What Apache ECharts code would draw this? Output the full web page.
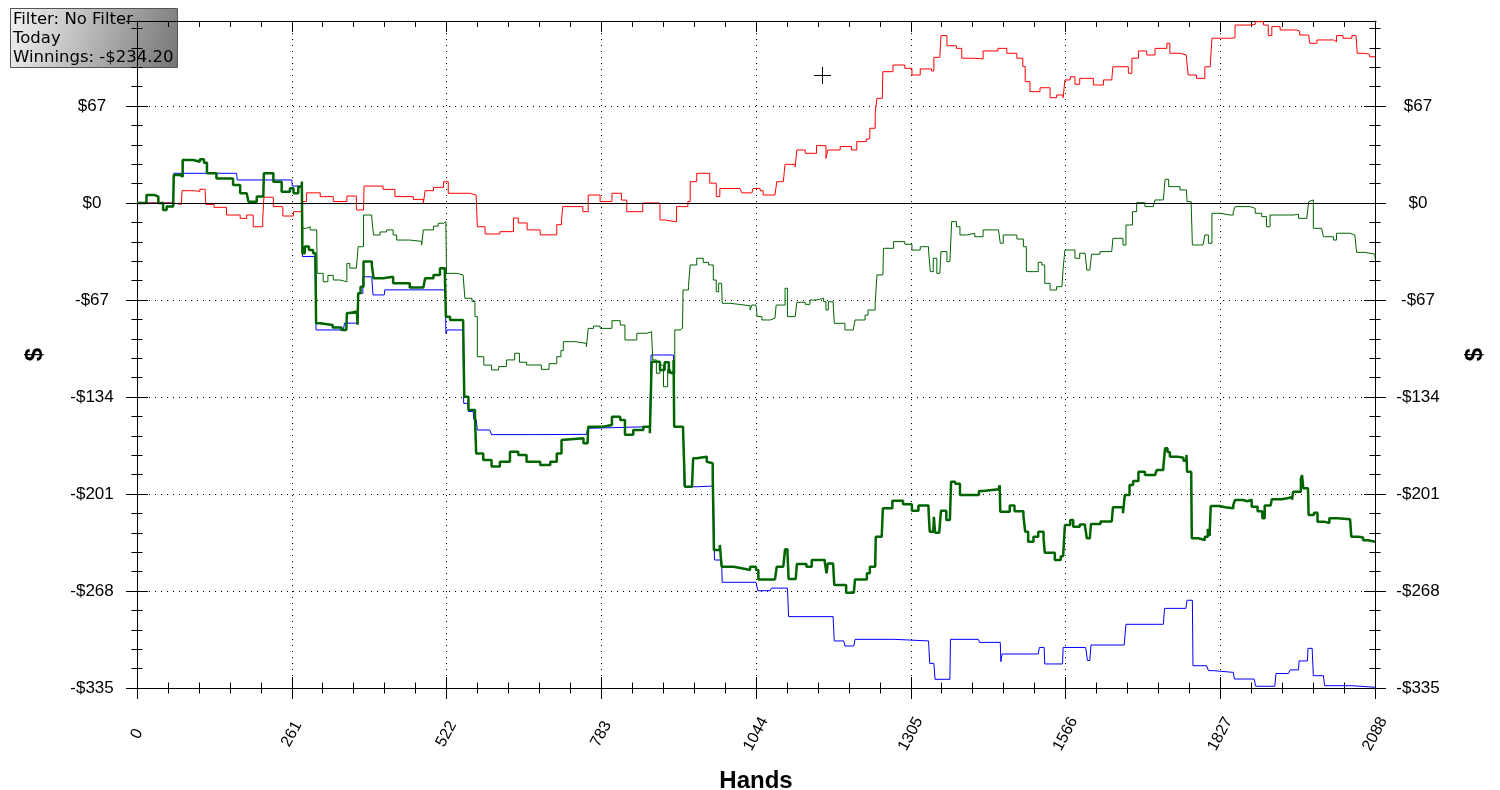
<!DOCTYPE html>
<html>
<head>
<meta charset="UTF-8">
<title>Winnings graph</title>
<script type="text/javascript" src="https://cdn.jsdelivr.net/npm/echarts@6/dist/echarts.min.js"></script>
<style>
  html, body { margin: 0; padding: 0; background: #fff; }
</style>
</head>
<body>
<div id="main" style="width:1500px;height:790px"></div>
<script type="text/javascript">
// axis ranges
var handsMax = 2088, handsStep = 261;
var dollarMin = -335, dollarMax = 125.7, dollarStep = 67;

// [hand, $] points
var blueLine = [[0,0],[61,0],[62,20.5],[168,20.5],[169,15.9],[261,15.9],[262,11.7],[278,11.7],[279,-37],[300,-38],[302,-87.7],[348,-87.7],[350,-83],[372,-83],[373,-62.4],[381,-51],[396,-51],[398,-63.5],[417,-63.5],[418,-60],[520,-60],[521,-90],[523,-87.7],[550,-87.7],[551,-138.4],[558,-138.4],[559,-144],[567,-144],[568,-149.5],[572,-149.5],[574,-156.8],[595,-156.8],[598,-160],[671,-160],[673,-159.8],[758,-159.8],[760,-155.6],[764,-154.5],[865,-154.5],[867,-105],[905,-105],[906,-154.5],[921,-154.5],[923,-196],[945,-196],[947,-195.5],[972,-195.5],[974,-246.6],[986,-246.6],[987,-262],[1044,-262],[1047,-267.8],[1068,-267.8],[1070,-266],[1097,-266],[1099,-285.7],[1174,-285.7],[1176,-302.5],[1192,-302.5],[1194,-306],[1209,-306],[1211,-301.4],[1278,-301.4],[1280,-302.5],[1335,-302.5],[1337,-318],[1344,-318],[1346,-329],[1371,-329],[1372,-301.4],[1419,-301.4],[1421,-303.5],[1456,-303.5],[1457,-316.8],[1459,-311.5],[1520,-311.5],[1522,-307],[1530,-307],[1531,-318.4],[1561,-318.4],[1562,-307],[1600,-307],[1603,-316],[1607,-316],[1609,-305.3],[1665,-305.3],[1668,-291],[1724,-291],[1731,-290],[1733,-280],[1769,-280],[1771,-274.4],[1780,-274.4],[1781,-319.6],[1804,-319.6],[1807,-323],[1815,-324.2],[1849,-324.2],[1851,-328.8],[1884,-328.8],[1887,-333.8],[1919,-333.8],[1921,-325],[1942,-325],[1945,-322.5],[1959,-322.5],[1960,-316.3],[1974,-316.3],[1975,-307.6],[1982,-307.6],[1984,-326.5],[2001,-326.5],[2003,-333.4],[2049,-333.4],[2051,-334.5],[2088,-334.5]];

var redLine = [[0,0],[44,0],[62,-1],[75,-1],[76,8.5],[95,8],[106,9.5],[115,8],[116,-1],[130,-3],[151,-8.3],[174,-10.6],[185,-8.3],[196,-16.4],[212,-11.7],[214,4],[230,-2.5],[246,-9],[264,-6],[278,1],[286,7],[309,4.4],[331,1],[354,4.8],[370,-4.8],[382,-5.5],[383,11.7],[415,9.4],[435,4.4],[466,2.5],[483,0],[486,8.5],[500,10.8],[517,14.7],[525,6.7],[562,5.5],[572,4.4],[574,-16.4],[587,-21.4],[612,-19.8],[635,-10.4],[643,-13.8],[658,-18.6],[680,-22],[708,-15],[716,-11.7],[718,-2.5],[752,-6],[761,5.5],[781,1],[801,6.7],[817,2],[826,-6],[853,0],[882,-11.7],[890,-13],[910,-2.5],[929,1],[933,14.7],[944,20.5],[966,13.7],[977,4.4],[983,10],[1017,10],[1020,7],[1037,7],[1039,10],[1051,8.5],[1056,5.5],[1076,6.7],[1079,14.7],[1090,14.7],[1093,26.7],[1110,25],[1113,36.6],[1127,34.3],[1146,39.6],[1162,30.8],[1165,36.6],[1186,39],[1205,36.6],[1214,42.4],[1230,44.2],[1236,51.6],[1245,62],[1248,72.3],[1257,71],[1258,90.7],[1275,95.3],[1295,93],[1307,88.4],[1321,92.6],[1340,91.2],[1344,100.6],[1354,100.6],[1356,115.6],[1366,108.6],[1382,106.8],[1391,100],[1410,99.5],[1427,105],[1452,106.8],[1467,103.4],[1484,100],[1494,94.3],[1498,83.8],[1506,76.9],[1523,79.6],[1540,72.7],[1551,74.6],[1562,72.7],[1565,85],[1574,87.2],[1582,82],[1590,86.1],[1613,81.5],[1630,85],[1644,83.8],[1646,94.1],[1672,89.6],[1678,100],[1689,105],[1703,102.2],[1717,106.8],[1737,110.3],[1742,103.4],[1759,102.2],[1770,100],[1773,88.4],[1787,86.1],[1801,94.1],[1810,94.1],[1813,113.8],[1827,113.8],[1846,114.2],[1852,122.9],[1877,123.4],[1886,125.2],[1900,122.9],[1908,115.6],[1914,121.8],[1928,119.5],[1956,118.8],[1961,116],[1976,115.6],[1978,110.3],[1990,112.6],[2018,111.4],[2023,115.6],[2034,113.8],[2049,115.6],[2056,114.9],[2058,103.4],[2071,102.7],[2079,101],[2088,100.4]];

// both green lines run together until hand 278
var greenStart = [[0,0],[16,5.5],[30,4.4],[36,0],[44,-4.8],[50,-2.5],[61,-1.4],[62,19.3],[73,18.2],[77,29.7],[95,28.5],[106,30.2],[113,27.8],[118,20.5],[134,17],[162,12.4],[174,6.7],[185,7.8],[188,0.9],[202,4.4],[213,4.4],[214,20.5],[230,14.7],[244,7.8],[258,10.2],[264,6.7],[272,11.2],[278,14.7]];

var thinGreenRest = [[279,-17.5],[286,-16.4],[292,-18.6],[303,-19.8],[304,-48.6],[314,-54.4],[322,-50],[331,-53.2],[342,-54.4],[354,-41.7],[359,-45],[370,-46.3],[373,-30.2],[382,-8.3],[396,-10.6],[399,-22.1],[410,-20],[421,-18.6],[432,-22.1],[438,-25.6],[460,-26.5],[480,-29],[483,-18.6],[500,-16],[508,-14],[517,-12.9],[521,-16.4],[522,-48.6],[540,-49.7],[550,-49.7],[553,-65.8],[565,-68],[570,-78.5],[574,-106.2],[585,-112],[598,-115.3],[610,-113],[623,-108.4],[637,-103.8],[645,-110],[657,-111.9],[682,-114.9],[695,-111],[708,-106.2],[715,-102],[719,-95.8],[740,-97],[758,-99.3],[761,-86.6],[770,-85],[781,-86.6],[801,-81.3],[815,-84.3],[823,-94.6],[843,-90],[860,-88.9],[868,-92],[870,-108.4],[876,-117.6],[882,-112],[888,-126.9],[895,-115],[900,-118],[907,-87.7],[916,-86.6],[920,-86],[921,-60.1],[930,-57.8],[933,-42.8],[944,-38.2],[955,-41],[964,-42.8],[972,-53.2],[977,-61.3],[981,-55.5],[986,-55.5],[987,-69.3],[1000,-70],[1015,-71],[1034,-73.9],[1037,-70.5],[1044,-71.6],[1046,-78.5],[1054,-80.8],[1068,-79.6],[1076,-78.5],[1078,-70.5],[1087,-70.5],[1093,-58.9],[1097,-78.5],[1110,-79.6],[1113,-68.6],[1127,-70],[1135,-67],[1146,-65.8],[1158,-68.2],[1162,-73.9],[1166,-68.2],[1174,-67],[1176,-83.1],[1186,-83.1],[1194,-87.7],[1208,-86.5],[1211,-80.8],[1228,-77.4],[1233,-73.9],[1245,-69.3],[1248,-49.7],[1258,-49.7],[1259,-31.3],[1276,-26.7],[1295,-28.5],[1307,-32.5],[1321,-30.2],[1335,-32.5],[1338,-47.4],[1343,-38.2],[1349,-48.6],[1354,-48.6],[1356,-33.6],[1366,-40.5],[1371,-40.5],[1374,-12.9],[1382,-16.4],[1388,-22.1],[1399,-20.9],[1413,-23.3],[1427,-18.6],[1453,-17.5],[1456,-27.8],[1461,-22.1],[1484,-24.9],[1495,-30.2],[1500,-47.4],[1512,-47.4],[1520,-41],[1526,-42.8],[1531,-55.5],[1540,-60.1],[1551,-57.8],[1560,-58.9],[1562,-45.1],[1565,-32.5],[1574,-32.5],[1582,-38.2],[1590,-34.7],[1599,-35.9],[1602,-46.3],[1607,-46.3],[1610,-35.4],[1624,-33.6],[1644,-33.6],[1646,-24.4],[1663,-29],[1668,-15.2],[1679,-6],[1686,0.2],[1700,-2.5],[1714,-2.5],[1717,2.1],[1731,3.2],[1734,16.4],[1740,11.3],[1759,9],[1770,10.1],[1771,0.9],[1778,-0.9],[1780,-29],[1790,-29],[1798,-27.8],[1801,-22.1],[1807,-27.8],[1813,-7.1],[1827,-8.3],[1843,-8.3],[1849,-6],[1852,-2.5],[1877,-3.7],[1886,-7.1],[1897,-9.4],[1905,-16.4],[1911,-8.3],[1933,-8.3],[1950,-7.8],[1959,-10.6],[1973,-9.4],[1976,0.9],[1978,2.1],[1984,-17.5],[1998,-16.4],[2001,-23.3],[2018,-25.6],[2023,-20.9],[2046,-22.1],[2054,-23.3],[2057,-34.1],[2071,-35.4],[2088,-38.2]];

var thickGreenRest = [[279,-34.7],[283,-30],[290,-32.5],[297,-34.7],[301,-34.7],[302,-83],[309,-84.3],[330,-86],[345,-87.7],[353,-87.7],[354,-76],[359,-75],[371,-75.5],[372,-84],[373,-62.4],[377,-57.8],[382,-40.5],[396,-42.8],[399,-52],[415,-51],[432,-55.5],[460,-58.3],[483,-57.8],[486,-52],[500,-49.7],[511,-45],[519,-46.3],[521,-78.5],[528,-80.8],[550,-82],[552,-133.8],[559,-143],[570,-146.4],[572,-173],[584,-177.5],[598,-182],[612,-178.7],[629,-171.8],[643,-174],[657,-178.7],[680,-181],[697,-178.7],[708,-173],[716,-163.7],[719,-162.5],[753,-166],[760,-166],[761,-154.5],[775,-154.5],[786,-153.3],[801,-147.6],[815,-149.9],[823,-160],[837,-156.8],[854,-154.5],[865,-159],[868,-109.6],[882,-115.3],[890,-110],[897,-117],[905,-108.4],[906,-154.5],[921,-156.8],[924,-196],[936,-196],[938,-176.3],[944,-175.2],[961,-178.7],[964,-179.8],[971,-187.9],[973,-239.7],[983,-236.2],[986,-251.2],[1006,-252.3],[1020,-253.5],[1034,-251.2],[1044,-253.5],[1048,-260],[1076,-259.2],[1079,-251.2],[1090,-251.2],[1093,-239.2],[1097,-241],[1099,-259.7],[1111,-260.4],[1113,-249.3],[1129,-251.2],[1138,-246.6],[1160,-248],[1163,-255.8],[1165,-249],[1174,-248.5],[1176,-263.8],[1191,-263.8],[1196,-269.2],[1209,-268.5],[1211,-260],[1231,-255.8],[1236,-251.2],[1245,-250],[1246,-230.5],[1256,-229.3],[1258,-210.9],[1270,-210.9],[1274,-205.6],[1292,-208],[1307,-212.5],[1318,-209],[1335,-212],[1337,-227],[1343,-227],[1344,-216.7],[1346,-227.7],[1353,-227.7],[1356,-212.5],[1365,-219],[1371,-219],[1373,-192.5],[1380,-194],[1388,-201.7],[1405,-201.7],[1420,-199],[1427,-197.8],[1453,-197],[1455,-195],[1456,-213.2],[1472,-209],[1480,-213],[1495,-216],[1498,-227],[1503,-234],[1512,-230.5],[1520,-227],[1529,-231.6],[1531,-241.5],[1548,-246.6],[1558,-244],[1562,-243.1],[1565,-222.4],[1574,-219],[1579,-223.6],[1590,-222],[1599,-223.6],[1602,-231.6],[1607,-232],[1609,-221.7],[1625,-220],[1644,-219],[1646,-210.2],[1663,-214.3],[1666,-201.7],[1674,-194.8],[1680,-192],[1689,-185.6],[1700,-187.9],[1717,-187.9],[1720,-184.4],[1731,-182.1],[1734,-169.4],[1738,-172],[1742,-175.2],[1755,-176],[1765,-178],[1770,-174],[1771,-185.6],[1778,-185.6],[1779,-231.6],[1790,-232.8],[1801,-230.5],[1806,-225],[1809,-230],[1811,-209.3],[1826,-210.2],[1835,-210.9],[1849,-208.6],[1852,-205.1],[1865,-206],[1873,-205],[1880,-209.8],[1890,-213],[1898,-217.8],[1902,-209],[1912,-210],[1914,-204.7],[1930,-204],[1940,-203],[1948,-205],[1950,-199.4],[1958,-199.4],[1963,-190.2],[1965,-188],[1967,-197],[1975,-197],[1976,-215.5],[1985,-214],[1991,-220.1],[2002,-221],[2011,-217.8],[2025,-218.5],[2046,-219],[2048,-230.5],[2060,-231],[2068,-233],[2076,-234],[2088,-234.2]];

var infoLines = ['Filter: No Filter', 'Today', 'Winnings: -$234.20'];

var BLACK = '#000';
var labelFont = 'Liberation Sans';

function money(v) {
	var r = Math.round(v);
	return (r < 0 ? '-$' : '$') + Math.abs(r);
}

// an axis that only draws ticks; offset pulls it in so the ticks cross the frame
function tickX(pos, step, offset, len, inside) {
	return {
		type: 'value', min: 0, max: handsMax, interval: step, position: pos, offset: offset,
		axisLine: { show: false, onZero: false }, axisLabel: { show: false }, splitLine: { show: false },
		axisTick: { show: true, inside: !!inside, length: len, lineStyle: { color: BLACK, width: 1 } }
	};
}
function tickY(pos, step, offset, len) {
	return {
		type: 'value', min: dollarMin, max: dollarMax, interval: step, position: pos, offset: offset,
		axisLine: { show: false, onZero: false }, axisLabel: { show: false }, splitLine: { show: false },
		axisTick: { show: true, length: len, lineStyle: { color: BLACK, width: 1 } }
	};
}

var nameStyle = { fontFamily: labelFont, fontSize: 24, fontWeight: 'bold', color: BLACK };
function yLabel(margin) {
	return { fontFamily: labelFont, fontSize: 17, color: BLACK, margin: margin, align: 'center',
		showMaxLabel: false, formatter: money };
}

function lineSeries(name, data, color, width) {
	return {
		name: name, type: 'line', data: data, symbol: 'none', step: 'end',
		lineStyle: { color: color, width: width }
	};
}

var myChart = echarts.init(document.getElementById('main'));

var option = {
	backgroundColor: '#fff',
	animation: false,
	grid: { left: 137, right: 125, top: 21, bottom: 102, containLabel: false, outerBoundsMode: 'none' },
	xAxis: [
		{
			type: 'value', min: 0, max: handsMax, interval: handsStep, position: 'bottom',
			axisLine: { show: true, onZero: false, lineStyle: { color: BLACK, width: 1 } },
			axisTick: { show: false },
			axisLabel: { rotate: 62, margin: 46, align: 'center', verticalAlign: 'middle',
				fontFamily: labelFont, fontSize: 16, color: BLACK,
				formatter: function (v) { return String(v); } },
			splitLine: { show: true, lineStyle: { color: BLACK, width: 1, type: [1, 5] } },
			name: 'Hands', nameLocation: 'middle', nameGap: 81, nameTextStyle: nameStyle
		},
		tickX('bottom', handsStep, -11, 22),
		tickX('bottom', handsStep / 5, -5.5, 11),
		{
			type: 'value', min: 0, max: handsMax, interval: handsStep, position: 'top',
			axisLine: { show: true, onZero: false, lineStyle: { color: BLACK, width: 1 } },
			axisTick: { show: true, inside: true, length: 11, lineStyle: { color: BLACK } },
			minorTick: { show: true, splitNumber: 5, length: 6, lineStyle: { color: BLACK } },
			axisLabel: { show: false }, splitLine: { show: false }
		}
	],
	yAxis: [
		{
			type: 'value', min: dollarMin, max: dollarMax, interval: dollarStep, position: 'left',
			axisLine: { show: true, onZero: false, lineStyle: { color: BLACK, width: 1 } },
			axisTick: { show: false },
			axisLabel: yLabel(45),
			splitLine: { show: true, lineStyle: { color: BLACK, width: 1, type: [1, 5] } },
			name: '$', nameLocation: 'middle', nameGap: 90, nameRotate: 90, nameTextStyle: nameStyle
		},
		tickY('left', dollarStep, -11, 22),
		tickY('left', dollarStep / 5, -5.5, 11),
		{
			type: 'value', min: dollarMin, max: dollarMax, interval: dollarStep, position: 'right',
			axisLine: { show: true, onZero: false, lineStyle: { color: BLACK, width: 1 } },
			axisTick: { show: false },
			axisLabel: yLabel(43),
			splitLine: { show: false },
			name: '$', nameLocation: 'middle', nameGap: 88, nameRotate: 90, nameTextStyle: nameStyle
		},
		tickY('right', dollarStep, -11, 22),
		tickY('right', dollarStep / 5, -5.5, 11)
	],
	graphic: [
		{
			type: 'group', z: 100,
			children: [
				{
					type: 'rect', shape: { x: 10.5, y: 8.5, width: 167, height: 59 },
					style: {
						fill: new echarts.graphic.LinearGradient(0, 0, 1, 1, [
							{ offset: 0, color: '#f4f4f4' }, { offset: 1, color: '#747474' }]),
						stroke: '#555', lineWidth: 1
					}
				},
				{
					type: 'text', x: 13, y: 10,
					style: { text: infoLines.join('\n'), font: '16.5px "DejaVu Sans"', lineHeight: 19, fill: BLACK }
				}
			]
		},
		// hide the extra tick the tick-only axes put at the top end of the scale
		{ type: 'rect', z: 100, shape: { x: 1376.5, y: 18, width: 14, height: 6 }, style: { fill: '#fff' } },
		// mouse cursor left on the screenshot
		{ type: 'line', shape: { x1: 814, y1: 75.5, x2: 831, y2: 75.5 }, style: { stroke: BLACK, lineWidth: 1 } },
		{ type: 'line', shape: { x1: 822.5, y1: 67, x2: 822.5, y2: 84 }, style: { stroke: BLACK, lineWidth: 1 } }
	],
	series: [
		Object.assign(lineSeries('blue', blueLine, '#0000ff', 1), {
			markLine: {
				silent: true, symbol: 'none', label: { show: false },
				lineStyle: { color: BLACK, type: 'solid', width: 1 },
				data: [{ yAxis: 0 }]
			}
		}),
		lineSeries('red', redLine, '#ff0000', 1),
		lineSeries('thin green', greenStart.concat(thinGreenRest), '#006400', 1),
		lineSeries('thick green', greenStart.concat(thickGreenRest), '#006400', 2.5)
	]
};

myChart.setOption(option);
</script>
</body>
</html>
